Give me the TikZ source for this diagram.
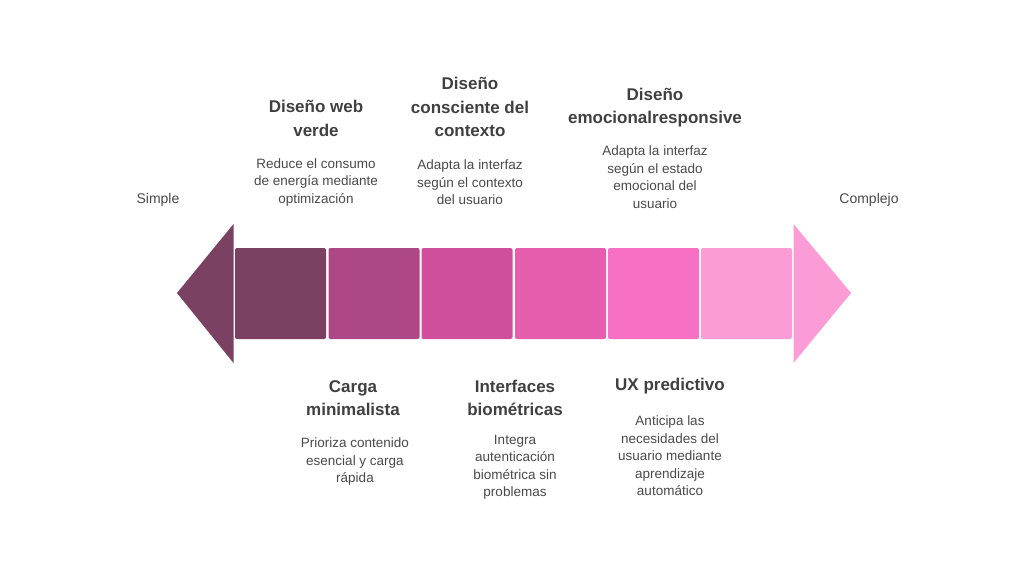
\documentclass[tikz,border=0pt]{standalone}
\usepackage{fontspec}
\setmainfont{Liberation Sans}
\definecolor{cA}{HTML}{7B4163}
\definecolor{cB}{HTML}{AD4785}
\definecolor{cC}{HTML}{D04F9B}
\definecolor{cD}{HTML}{E55DAC}
\definecolor{cE}{HTML}{F870C3}
\definecolor{cF}{HTML}{FB9CD6}
\definecolor{ttl}{HTML}{404040}
\definecolor{dsc}{HTML}{4A4A4A}
\begin{document}
\begin{tikzpicture}[x=1pt,y=-1pt,
  seg/.style={rounded corners=2pt, minimum width=91pt, minimum height=91pt, inner sep=0pt},
  ttlnode/.style={align=center, inner sep=0pt, text=ttl, font=\bfseries\fontsize{17}{23.5}\selectfont},
  dscnode/.style={align=center, inner sep=0pt, text=dsc, font=\fontsize{13.5}{17.5}\selectfont},
  endnode/.style={inner sep=0pt, text=dsc, font=\fontsize{14}{17}\selectfont}]
\useasboundingbox[fill=white] (0,0) rectangle (1024,576);
% arrowheads
\fill[cA] (177,293) -- (233.5,224) -- (233.5,363) -- cycle;
\fill[cF] (851,293) -- (793.5,224) -- (793.5,363) -- cycle;
% segments
\node[seg, fill=cA] (s1) at (280.5,293.5) {};
\node[seg, fill=cB] (s2) at (374,293.5) {};
\node[seg, fill=cC] (s3) at (467,293.5) {};
\node[seg, fill=cD] (s4) at (560.5,293.5) {};
\node[seg, fill=cE] (s5) at (653.5,293.5) {};
\node[seg, fill=cF] (s6) at (746.5,293.5) {};
% ends
\node[endnode] (simple) at (158,200) {Simple};
\node[endnode] (complejo) at (869,200) {Complejo};
% top
\node[ttlnode] (t1) at (316,118.5) {Diseño web\\verde};
\node[dscnode] (d1) at (316,182.5) {Reduce el consumo\\de energía mediante\\optimización};
\node[ttlnode] (t3) at (470,107) {Diseño\\consciente del\\contexto};
\node[dscnode] (d3) at (470,182.5) {Adapta la interfaz\\según el contexto\\del usuario};
\node[ttlnode] (t5) at (655,107.5) {Diseño\\emocionalresponsive};
\node[dscnode] (d5) at (655,177) {Adapta la interfaz\\según el estado\\emocional del\\usuario};
% bottom
\node[ttlnode] (t2) at (353,398) {Carga\\minimalista};
\node[dscnode] (d2) at (355,461.5) {Prioriza contenido\\esencial y carga\\rápida};
\node[ttlnode] (t4) at (515,398) {Interfaces\\biométricas};
\node[dscnode] (d4) at (515,467) {Integra\\autenticación\\biométrica sin\\problemas};
\node[ttlnode] (t6) at (670,386) {UX predictivo};
\node[dscnode] (d6) at (670,456) {Anticipa las\\necesidades del\\usuario mediante\\aprendizaje\\automático};
\end{tikzpicture}
\end{document}
